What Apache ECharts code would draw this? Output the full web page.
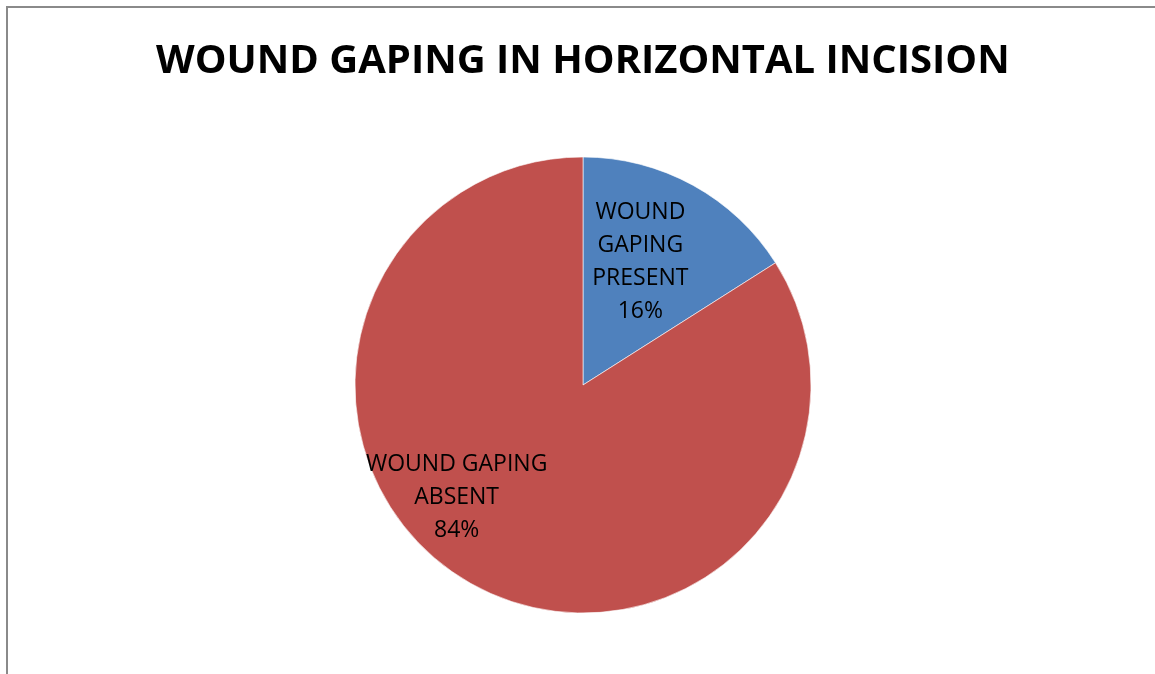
<!DOCTYPE html>
<html>
<head>
<meta charset="utf-8">
<script src="https://cdn.jsdelivr.net/npm/echarts@6/dist/echarts.min.js"></script>
<style>
  html, body { margin: 0; padding: 0; background: #fff; }
  #chart { width: 1155px; height: 674px; }
  #frame {
    position: absolute; left: 6px; top: 6px; width: 1200px; height: 700px;
    border-left: 2px solid #8a8a8a; border-top: 2px solid #8a8a8a;
    pointer-events: none;
  }
</style>
</head>
<body>
<div id="chart"></div>
<div id="frame"></div>
<script>
// Wound gaping outcome after horizontal incision (percent of cases)
const chartTitle = 'WOUND GAPING IN HORIZONTAL INCISION';
const categories = ['WOUND\nGAPING\nPRESENT', 'WOUND GAPING\nABSENT'];
const percents = [16, 84];
const sliceColors = ['#4F81BD', '#C0504D'];

// Shift of each label from the slice's default inside anchor
const labelShift = [[1, -21], [-70, 10]];

const chart = echarts.init(document.getElementById('chart'), null, { renderer: 'canvas' });
chart.setOption({
  animation: false,
  backgroundColor: '#ffffff',
  title: {
    text: chartTitle,
    left: 151,
    top: 37,
    textStyle: {
      fontFamily: 'Open Sans',
      fontWeight: 'bold',
      fontSize: 40,
      color: '#000'
    }
  },
  series: [{
    type: 'pie',
    center: [583, 385],
    radius: 228,
    startAngle: 90,
    clockwise: true,
    data: categories.map((name, i) => ({
      name: name,
      value: percents[i],
      itemStyle: { color: sliceColors[i] }
    })),
    itemStyle: { borderColor: '#ffffff', borderWidth: 0.6 },
    label: {
      show: true,
      position: 'inside',
      formatter: p => p.name + '\n' + p.value + '%',
      fontFamily: 'Open Sans',
      fontSize: 23,
      lineHeight: 33,
      color: '#000',
      align: 'center'
    },
    labelLayout: params => ({
      dx: labelShift[params.dataIndex][0],
      dy: labelShift[params.dataIndex][1]
    }),
    emphasis: { disabled: true }
  }]
});
</script>
</body>
</html>
